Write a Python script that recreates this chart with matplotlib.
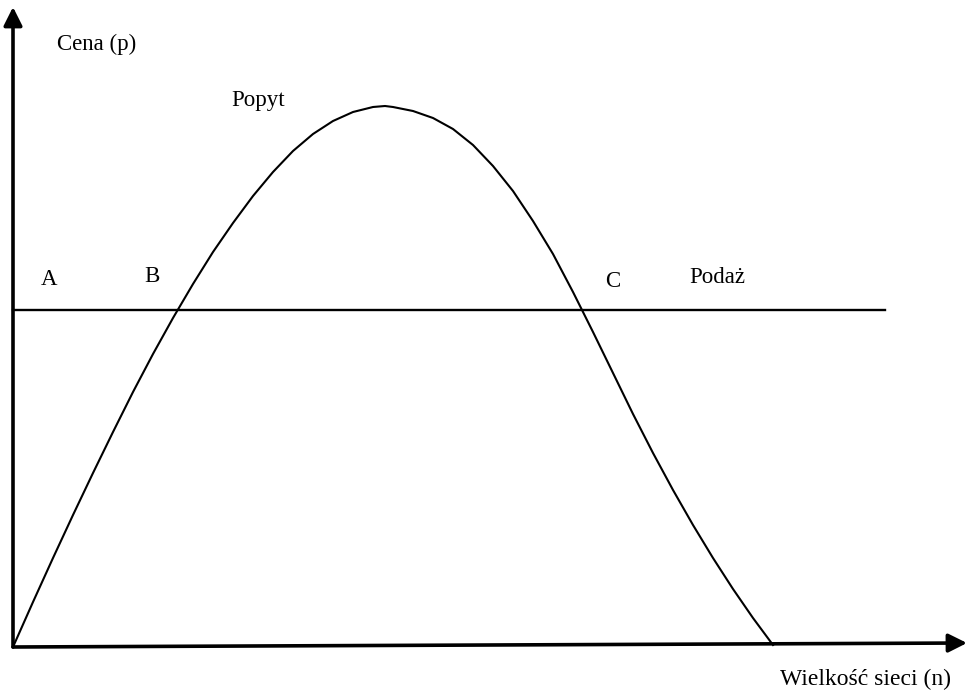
import matplotlib.pyplot as plt

# demand curve (popyt)
n_demand = [0, 20, 40, 60, 80, 100, 120, 140, 160, 180, 200, 220, 240, 260, 280, 300,
            320, 340, 360, 372, 380, 400, 420, 440, 460, 480, 500, 520, 540, 560, 580,
            600, 620, 640, 660, 680, 700, 720, 740, 760]
p_demand = [0, 45, 89, 132, 174, 215, 255, 293, 329, 363, 395, 424, 451, 475, 496, 513,
            526, 535, 540, 541, 540, 536, 529, 518, 502, 481, 456, 426, 393, 355, 315,
            274, 233, 194, 157, 122, 89, 58, 29, 2]

# supply line (podaz)
n_supply = [0, 872]
p_supply = [337, 337]

plt.rcParams['font.family'] = ['Liberation Serif', 'DejaVu Serif']

fig = plt.figure(figsize=(9.67, 6.95), dpi=100)
ax = fig.add_axes([0, 0, 1, 1])
ax.set_xlim(-13, 954)
ax.set_ylim(-48, 647)
ax.axis('off')

# axes with arrows
ax.annotate('', xy=(954, 4), xytext=(0, 0),
            arrowprops=dict(arrowstyle='-|>', lw=2.6, color='black',
                            mutation_scale=28, shrinkA=0, shrinkB=0))
ax.annotate('', xy=(0, 640), xytext=(0, 0),
            arrowprops=dict(arrowstyle='-|>', lw=2.6, color='black',
                            mutation_scale=28, shrinkA=0, shrinkB=0))

ax.plot(n_supply, p_supply, color='black', lw=1.7)
ax.plot(n_demand, p_demand, color='black', lw=1.5, solid_joinstyle='round')

fs = 16.5
ax.text(84, 597, 'Cena (p)', fontsize=fs, ha='center', va='baseline')
ax.text(852, -38, 'Wielkość sieci (n)', fontsize=17, ha='center', va='baseline')
ax.text(245, 541, 'Popyt', fontsize=fs, ha='center', va='baseline')
ax.text(36, 362, 'A', fontsize=fs, ha='center', va='baseline')
ax.text(139, 365, 'B', fontsize=fs, ha='center', va='baseline')
ax.text(600, 360, 'C', fontsize=fs, ha='center', va='baseline')
ax.text(704, 364, 'Podaż', fontsize=fs, ha='center', va='baseline')

fig.savefig('out.png', dpi=100)
